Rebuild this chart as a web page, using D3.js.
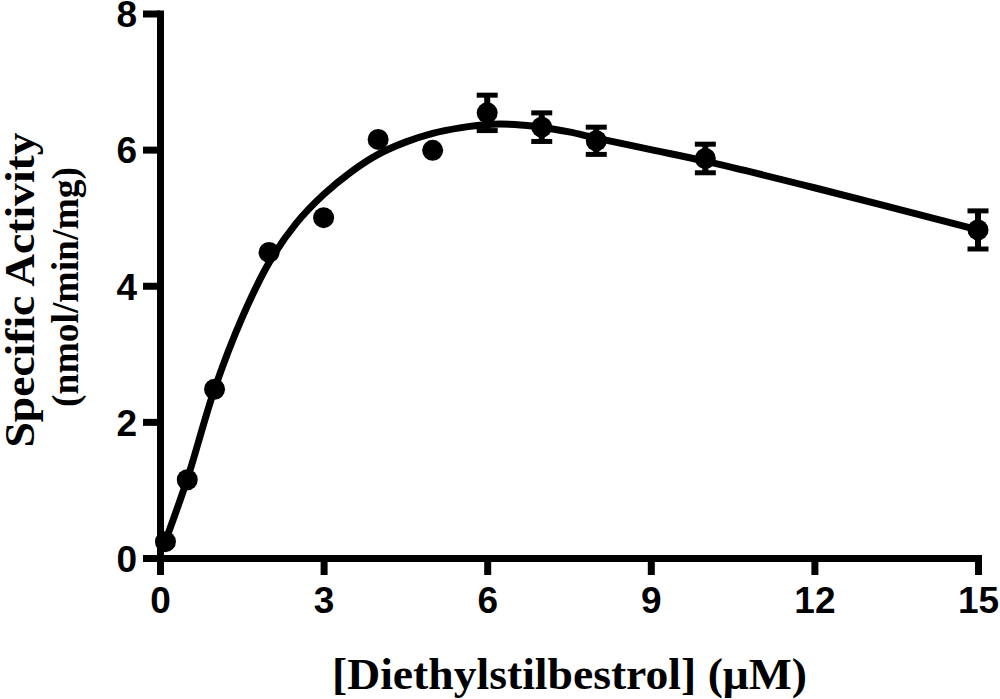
<!DOCTYPE html>
<html>
<head>
<meta charset="utf-8">
<script src="https://cdn.jsdelivr.net/npm/d3@7"></script>
<style>
  html, body { margin: 0; padding: 0; background: #fff; }
  svg { display: block; }
</style>
</head>
<body>
<svg id="chart" width="1000" height="699"></svg>
<script>
// ---- data ----
const concentration = [0.1, 0.5, 1, 2, 3, 4, 5, 6, 7, 8, 10, 15];
const activity      = [0.24, 1.15, 2.48, 4.49, 5.0, 6.15, 5.99, 6.54, 6.33, 6.13, 5.87, 4.82];
const activityErr   = [0, 0, 0, 0, 0, 0, 0, 0.26, 0.21, 0.2, 0.21, 0.28];

// fitted curve
const fitX = [0.1, 0.5, 1, 1.5, 2, 2.5, 3, 3.5, 4, 4.5, 5, 5.5, 6, 6.5, 7, 7.5, 8, 9, 10, 12, 15];
const fitY = [0.25, 1.16, 2.48, 3.52, 4.34, 4.92, 5.34, 5.67, 5.93, 6.11, 6.24, 6.32, 6.37, 6.37, 6.33, 6.26, 6.17, 6.0, 5.83, 5.44, 4.82];

const xTicks = [0, 3, 6, 9, 12, 15];
const yTicks = [0, 2, 4, 6, 8];

const xTitle = "[Diethylstilbestrol] (\u03BCM)";
const yTitle1 = "Specific Activity";
const yTitle2 = "(nmol/min/mg)";

// ---- drawing ----
const svg = d3.select("#chart");
svg.append("rect").attr("width", 1000).attr("height", 699).attr("fill", "#fff");

const x = d3.scaleLinear().domain([0, 15]).range([160, 978]);
const y = d3.scaleLinear().domain([0, 8]).range([558, 13.5]);

const AXW = 7;

// axes
const xAxis = d3.axisBottom(x).tickValues(xTicks).tickSize(17).tickSizeOuter(0).tickPadding(12);
const yAxis = d3.axisLeft(y).tickValues(yTicks).tickSize(17).tickSizeOuter(0).tickPadding(6);

const gx = svg.append("g").attr("transform", `translate(0,${y(0)})`).call(xAxis);
const gy = svg.append("g").attr("transform", `translate(${x(0)},0)`).call(yAxis);

[gx, gy].forEach(g => {
  g.select(".domain").attr("stroke", "#000").attr("stroke-width", AXW).attr("stroke-linecap", "square");
  g.selectAll(".tick line").attr("stroke", "#000").attr("stroke-width", AXW);
  g.selectAll(".tick text")
    .attr("fill", "#000")
    .style("font-family", "'Liberation Sans', Arial, sans-serif")
    .style("font-weight", "bold")
    .style("font-size", "37px");
});
gy.selectAll(".tick text").attr("dy", "0.36em");

// fitted curve
const line = d3.line()
  .x(d => x(d[0]))
  .y(d => y(d[1]))
  .curve(d3.curveCatmullRom.alpha(0.5));
svg.append("path")
  .datum(fitX.map((v, i) => [v, fitY[i]]))
  .attr("d", line)
  .attr("fill", "none")
  .attr("stroke", "#000")
  .attr("stroke-width", 7)
  .attr("stroke-linejoin", "round");

// error bars
const pts = concentration.map((c, i) => ({ c, a: activity[i], e: activityErr[i] }));
const eb = svg.append("g").selectAll("g").data(pts.filter(d => d.e > 0)).join("g");
eb.append("line")
  .attr("x1", d => x(d.c)).attr("x2", d => x(d.c))
  .attr("y1", d => y(d.a + d.e)).attr("y2", d => y(d.a - d.e))
  .attr("stroke", "#000").attr("stroke-width", 6);
eb.append("line")
  .attr("x1", d => x(d.c) - 10.5).attr("x2", d => x(d.c) + 10.5)
  .attr("y1", d => y(d.a + d.e)).attr("y2", d => y(d.a + d.e))
  .attr("stroke", "#000").attr("stroke-width", 5);
eb.append("line")
  .attr("x1", d => x(d.c) - 10.5).attr("x2", d => x(d.c) + 10.5)
  .attr("y1", d => y(d.a - d.e)).attr("y2", d => y(d.a - d.e))
  .attr("stroke", "#000").attr("stroke-width", 5);

// points
svg.append("g").selectAll("circle").data(pts).join("circle")
  .attr("cx", d => x(d.c))
  .attr("cy", d => y(d.a))
  .attr("r", 10.5)
  .attr("fill", "#000");

// titles
svg.append("text")
  .attr("x", 569.5).attr("y", 689)
  .attr("text-anchor", "middle")
  .attr("textLength", 475).attr("lengthAdjust", "spacingAndGlyphs")
  .style("font-family", "'Liberation Serif', 'Times New Roman', serif")
  .style("font-weight", "bold")
  .style("font-size", "45px")
  .text(xTitle);

svg.append("text")
  .attr("transform", "translate(34,290) rotate(-90)")
  .attr("text-anchor", "middle")
  .attr("textLength", 315).attr("lengthAdjust", "spacingAndGlyphs")
  .style("font-family", "'Liberation Serif', 'Times New Roman', serif")
  .style("font-weight", "bold")
  .style("font-size", "43px")
  .text(yTitle1);

svg.append("text")
  .attr("transform", "translate(78,287) rotate(-90)")
  .attr("text-anchor", "middle")
  .attr("textLength", 240).attr("lengthAdjust", "spacingAndGlyphs")
  .style("font-family", "'Liberation Serif', 'Times New Roman', serif")
  .style("font-weight", "bold")
  .style("font-size", "37px")
  .text(yTitle2);
</script>
</body>
</html>
